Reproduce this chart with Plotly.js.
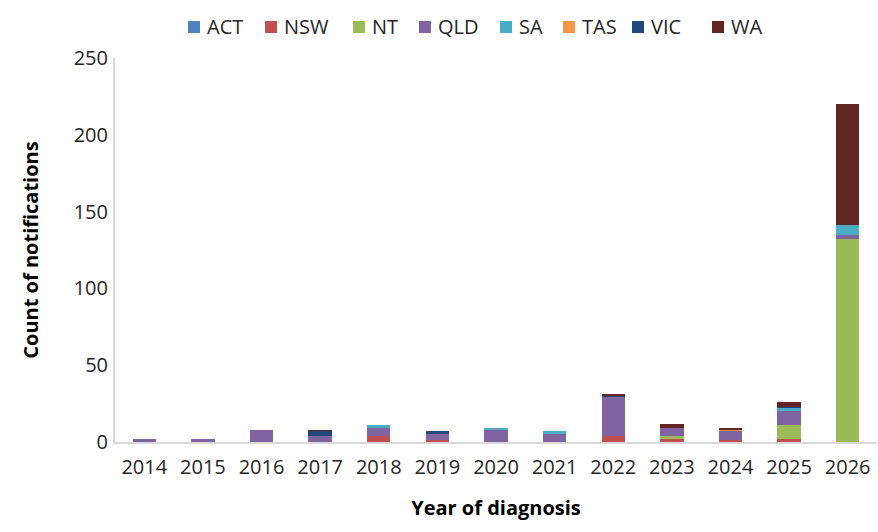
<!DOCTYPE html>
<html>
<head>
<meta charset="utf-8">
<script src="https://cdn.plot.ly/plotly-3.0.1.min.js"></script>
<style>html,body{margin:0;padding:0;background:#fff;}#chart{width:878px;height:532px;}</style>
</head>
<body>
<div id="chart"></div>
<script>
const years = ['2014','2015','2016','2017','2018','2019','2020','2021','2022','2023','2024','2025','2026'];
const ACT = [0,0,0,0,0,0,0,0,0,0,0,0,0];
const NSW = [0,0,0,0,4,1,0,0,4,2,1,2,0];
const NT  = [0,0,0,0,0,0,0,0,0,2,0,9,132];
const QLD = [2,2,8,4,5,4,8,5,25,5,6,9,3];
const SA  = [0,0,0,0,2,0,1,2,0,0,0,2,6];
const TAS = [0,0,0,0,0,0,0,0,0,0,1,0,0];
const VIC = [0,0,0,3,0,2,0,0,1,0,0,1,0];
const WA  = [0,0,0,1,0,0,0,0,1,3,1,3,79];

const states = ['ACT','NSW','NT','QLD','SA','TAS','VIC','WA'];
const values = [ACT, NSW, NT, QLD, SA, TAS, VIC, WA];
const colors = ['#4F81BD','#C0504D','#9BBB59','#8064A2','#4BACC6','#F79646','#1F497D','#632523'];
// legend entry left edges (px, layout only)
const legendLeft = [188, 265, 353, 419, 500, 563, 632, 712];

const font = 'Open Sans, Lato, sans-serif';
const W = 878, H = 532;
const traces = states.map((s, i) => ({
  type: 'bar', name: s, x: years, y: values[i],
  marker: {color: colors[i]}, hoverinfo: 'x+y+name'
}));

const shapes = [], annotations = [];
const legY = 27;
states.forEach((s, i) => {
  const x0 = legendLeft[i];
  shapes.push({type: 'rect', xref: 'paper', yref: 'paper', layer: 'above',
    x0: (x0 - 115) / 762, x1: (x0 + 12 - 115) / 762,
    y0: (442 - (legY + 6)) / 384, y1: (442 - (legY - 6)) / 384,
    fillcolor: colors[i], line: {width: 0}});
  annotations.push({xref: 'paper', yref: 'paper', x: (x0 + 17 - 115) / 762, y: (442 - legY) / 384,
    xanchor: 'left', yanchor: 'middle', showarrow: false, text: s,
    font: {family: font, size: 20, color: '#262626'}});
});

const layout = {
  width: W, height: H,
  barmode: 'stack', bargap: 0.6,
  margin: {l: 115, r: 1, t: 58, b: 90, pad: 0},
  paper_bgcolor: '#fff', plot_bgcolor: '#fff',
  font: {family: font, size: 20, color: '#262626'},
  showlegend: false,
  shapes: shapes, annotations: annotations,
  xaxis: {type: 'category', showline: true, linecolor: '#d9d9d9', linewidth: 2, ticks: '', showgrid: false,
          tickfont: {family: font, size: 20, color: '#262626'}, ticklabelstandoff: 6,
          title: {text: 'Year of diagnosis', font: {family: font, size: 20, color: '#000', weight: 'bold'}, standoff: 22}},
  yaxis: {range: [0, 250], dtick: 50, showline: true, linecolor: '#d9d9d9', linewidth: 2, ticks: '', showgrid: false,
          zeroline: false, tickfont: {family: font, size: 20, color: '#262626'}, ticklabelstandoff: 1,
          title: {text: 'Count of notifications', font: {family: font, size: 20, color: '#000', weight: 'bold'}, standoff: 30}}
};
Plotly.newPlot('chart', traces, layout, {displayModeBar: false, staticPlot: true});
</script>
</body>
</html>
